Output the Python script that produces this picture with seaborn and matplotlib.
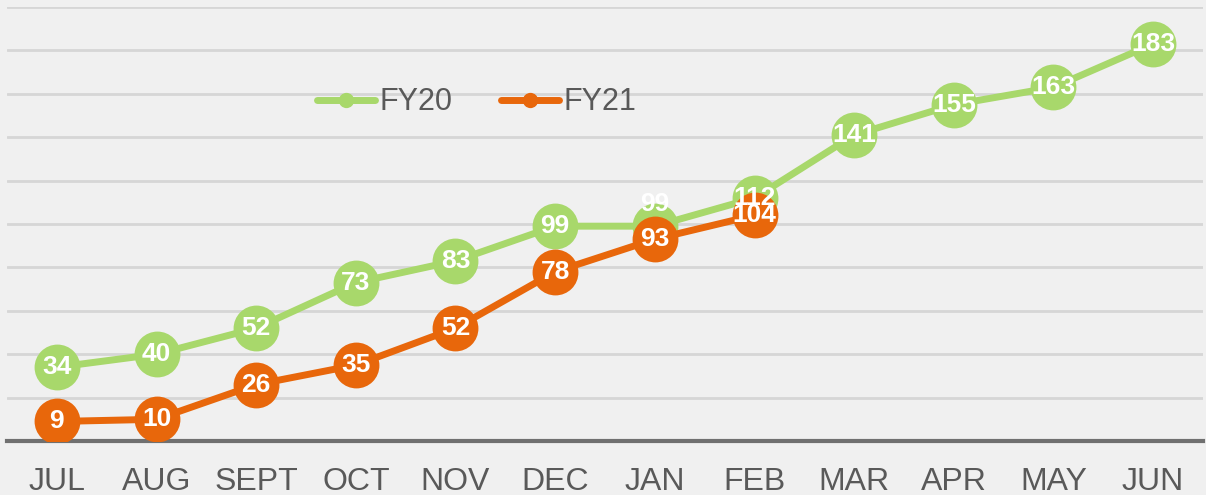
import pandas as pd
import matplotlib.pyplot as plt
import seaborn as sns

months = ['JUL', 'AUG', 'SEPT', 'OCT', 'NOV', 'DEC', 'JAN', 'FEB', 'MAR', 'APR', 'MAY', 'JUN']
fy20 = [34, 40, 52, 73, 83, 99, 99, 112, 141, 155, 163, 183]
fy21 = [9, 10, 26, 35, 52, 78, 93, 104]

green = '#a8d86b'
orange = '#e8670b'
bg = '#f0f0f0'

sns.set_theme(style='white')
plt.rcParams['font.family'] = ['Liberation Sans', 'DejaVu Sans']

fig = plt.figure(figsize=(12.06, 4.95), dpi=100, facecolor=bg)
ax = fig.add_axes([7 / 1206, 54 / 495, 1196 / 1206, 434 / 495])
ax.set_facecolor(bg)

x20 = list(range(len(fy20)))
x21 = list(range(len(fy21)))

sns.lineplot(x=x20, y=fy20, ax=ax, color=green, linewidth=5, marker='o',
             markersize=33, markeredgewidth=0, label='FY20', zorder=3)
sns.lineplot(x=x21, y=fy21, ax=ax, color=orange, linewidth=5, marker='o',
             markersize=33, markeredgewidth=0, label='FY21', zorder=4)

# data labels (JAN FY20 sits above its marker, as in the original)
for i, v in enumerate(fy20):
    dy = 10 if months[i] == 'JAN' else 0
    ax.text(i, v + dy, str(v), ha='center', va='center', color='white',
            fontsize=19, fontweight='bold', zorder=5)
for i, v in enumerate(fy21):
    ax.text(i, v, str(v), ha='center', va='center', color='white',
            fontsize=19, fontweight='bold', zorder=6)

ax.set_xlim(-0.5, len(months) - 0.5)
ax.set_ylim(0, 200)
ax.set_yticks(range(0, 201, 20))
ax.yaxis.grid(True, color='#d6d6d6', linewidth=2)
ax.set_axisbelow(True)
ax.set_yticklabels([])
ax.tick_params(axis='y', length=0)

ax.set_xticks(range(len(months)))
ax.set_xticklabels(months, color='#595959', fontsize=23)
ax.tick_params(axis='x', length=0, pad=19)

for side in ['top', 'right', 'left']:
    ax.spines[side].set_visible(False)
ax.spines['bottom'].set_color('#707070')
ax.spines['bottom'].set_linewidth(3)

leg = ax.legend(loc='center left', bbox_to_anchor=(0.236, 0.78), ncol=2,
                frameon=False, fontsize=22, handlelength=1.9, columnspacing=1.6,
                handletextpad=0.15, labelcolor='#595959')
for h in leg.legend_handles:
    h.set_markersize(11)
    h.set_linewidth(5)

fig.savefig('out.png', dpi=100, facecolor=bg)
